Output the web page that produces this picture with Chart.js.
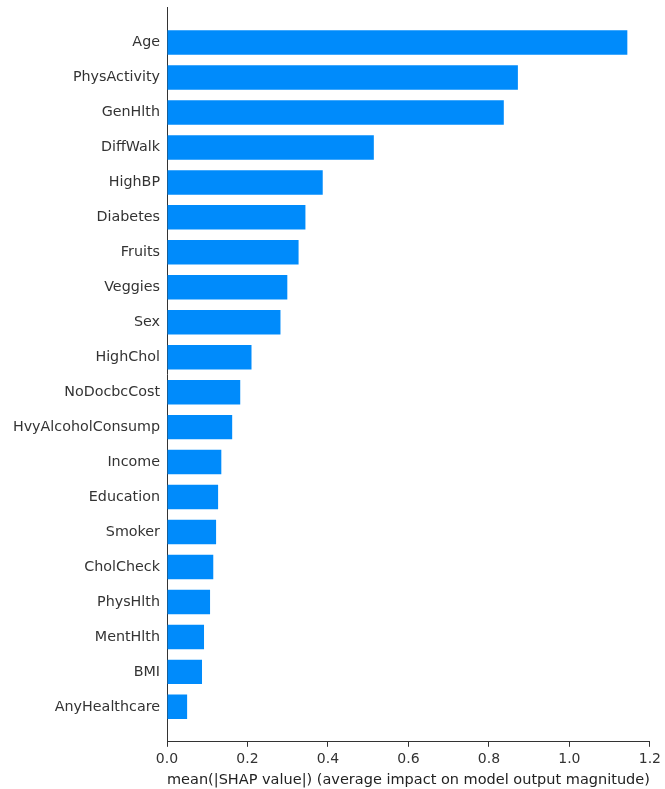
<!DOCTYPE html>
<html lang="en">
<head>
  <meta charset="UTF-8">
  <title>SHAP feature importance</title>
  <script src="https://cdn.jsdelivr.net/npm/chart.js"></script>
  <style>
    body { margin: 0; padding: 0; background: #fff; }
    .chart-container { width: 665px; height: 789px; }
  </style>
</head>
<body>
  <div class="chart-container">
    <canvas id="shapChart"></canvas>
  </div>
  <script>
    // features, top to bottom (blank entries pad the axis by one step each side)
    const features = ['', 'Age', 'PhysActivity', 'GenHlth', 'DiffWalk', 'HighBP', 'Diabetes', 'Fruits',
      'Veggies', 'Sex', 'HighChol', 'NoDocbcCost', 'HvyAlcoholConsump', 'Income', 'Education',
      'Smoker', 'CholCheck', 'PhysHlth', 'MentHlth', 'BMI', 'AnyHealthcare', ''];
    const meanShap = [null, 1.144, 0.872, 0.837, 0.514, 0.387, 0.344, 0.327,
      0.299, 0.282, 0.210, 0.182, 0.162, 0.135, 0.127,
      0.122, 0.115, 0.107, 0.092, 0.087, 0.050, null];
    const xTicks = [0, 0.2, 0.4, 0.6, 0.8, 1.0, 1.2];

    new Chart(document.getElementById('shapChart'), {
      type: 'bar',
      data: {
        labels: features,
        datasets: [{
          data: meanShap,
          backgroundColor: '#008bfb',
          barPercentage: 0.7,
          categoryPercentage: 1.0
        }]
      },
      options: {
        indexAxis: 'y',
        responsive: true,
        maintainAspectRatio: false,
        animation: false,
        layout: { padding: { top: -12, right: 14, bottom: 0, left: 0 } },
        plugins: { legend: { display: false }, tooltip: { enabled: false } },
        scales: {
          y: {
            offset: false,
            grid: { display: false },
            border: { display: true, color: '#333', width: 1 },
            ticks: { color: '#333', font: { family: 'DejaVu Sans', size: 14.3 }, padding: -1, autoSkip: false },
            afterFit: (s) => { s.width = 167; }
          },
          x: {
            min: 0,
            max: 1.2,
            afterBuildTicks: (s) => { s.ticks = xTicks.map(v => ({ value: v })); },
            grid: { drawOnChartArea: false, drawTicks: true, tickLength: 5, color: '#333' },
            border: { display: true, color: '#333', width: 1 },
            ticks: { color: '#333', font: { family: 'DejaVu Sans', size: 14 }, padding: 4, callback: (v) => Number(v).toFixed(1) },
            title: {
              display: true,
              text: 'mean(|SHAP value|) (average impact on model output magnitude)',
              color: '#222',
              font: { family: 'DejaVu Sans', size: 14.5 },
              padding: { top: 0, bottom: 0 }
            }
          }
        }
      }
    });
  </script>
</body>
</html>
